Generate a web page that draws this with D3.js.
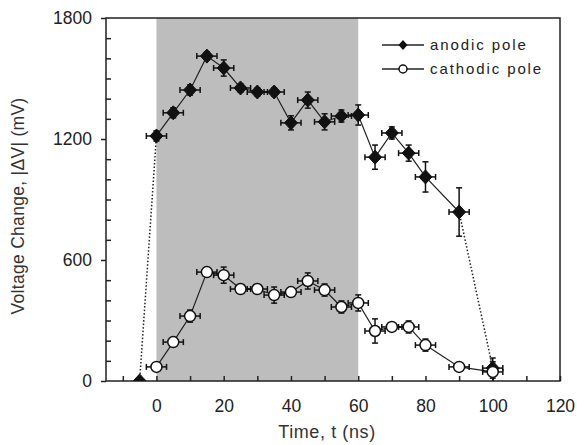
<!DOCTYPE html>
<html>
<head>
<meta charset="utf-8">
<script src="https://cdn.jsdelivr.net/npm/d3@7"></script>
<style>
  body { margin: 0; background: #fff; }
  svg { font-family: "Liberation Sans", Arial, sans-serif; }
</style>
</head>
<body>
<svg id="chart" width="577" height="445"></svg>
<script>
// time points (ns)
const anodicT = [-5, 0, 5, 10, 15, 20, 25, 30, 35, 40, 45, 50, 55, 60, 65, 70, 75, 80, 90, 100];
const anodicV = [0, 1215, 1330, 1443, 1611, 1552, 1453, 1433, 1433, 1280, 1393, 1285, 1314, 1319, 1110, 1230, 1130, 1012, 838, 64];
const anodicErr = [0, 25, 25, 25, 20, 40, 20, 20, 20, 35, 40, 40, 30, 50, 60, 30, 40, 75, 120, 50];

const cathodicT = [0, 5, 10, 15, 20, 25, 30, 35, 40, 45, 50, 55, 60, 65, 70, 75, 80, 90, 100];
const cathodicV = [70, 193, 322, 540, 525, 456, 456, 426, 441, 496, 451, 367, 387, 248, 268, 268, 178, 70, 45];
const cathodicErr = [20, 20, 30, 20, 40, 20, 20, 40, 20, 40, 30, 30, 40, 60, 20, 30, 30, 20, 50];

const tErr = 3;
const shadeRange = [0, 60];
const xTicks = [0, 20, 40, 60, 80, 100, 120];
const yTicks = [0, 600, 1200, 1800];

const svg = d3.select("#chart");
const margin = { top: 18, right: 17, bottom: 64, left: 106 };
const width = 577, height = 445;

const x = d3.scaleLinear().domain([-15, 120]).range([margin.left, width - margin.right]);
const y = d3.scaleLinear().domain([0, 1800]).range([height - margin.bottom, margin.top]);

svg.append("clipPath").attr("id", "plot-clip")
  .append("rect")
  .attr("x", x(-15)).attr("y", y(1800))
  .attr("width", x(120) - x(-15)).attr("height", y(0) - y(1800));

// shaded pulse window
svg.append("rect")
  .attr("x", x(shadeRange[0]))
  .attr("y", y(1800))
  .attr("width", x(shadeRange[1]) - x(shadeRange[0]))
  .attr("height", y(0) - y(1800))
  .attr("fill", "#bdbdbd");

// axes
const xAxis = d3.axisBottom(x).tickValues(d3.range(-10, 121, 10)).tickSize(-5)
  .tickFormat((d) => (xTicks.includes(d) ? d : ""));
svg.append("g")
  .attr("transform", `translate(0,${y(0)})`)
  .call(xAxis)
  .call((g) => g.select(".domain").remove())
  .call((g) => g.selectAll("line").attr("stroke", "#222").attr("stroke-width", 1.5))
  .call((g) => g.selectAll("text").attr("y", 31).attr("dy", 0)
    .attr("font-size", 17.5).attr("fill", "#222"));

const yAxis = d3.axisLeft(y).tickValues(d3.range(0, 1801, 100)).tickSize(5)
  .tickFormat((d) => (yTicks.includes(d) ? d : ""));
svg.append("g")
  .attr("transform", `translate(${x(-15)},0)`)
  .call(yAxis)
  .call((g) => g.select(".domain").remove())
  .call((g) => g.selectAll("line").attr("stroke", "#222").attr("stroke-width", 1.5)
    .attr("x1", 0).attr("x2", (d) => (yTicks.includes(d) ? -5 : 5)))
  .call((g) => g.selectAll("text").attr("x", -14).attr("font-size", 17.5).attr("fill", "#222"));

// frame
svg.append("rect")
  .attr("x", x(-15)).attr("y", y(1800))
  .attr("width", x(120) - x(-15)).attr("height", y(0) - y(1800))
  .attr("fill", "none").attr("stroke", "#222").attr("stroke-width", 1.5);

// axis titles
svg.append("text")
  .attr("x", 327).attr("y", 438)
  .attr("text-anchor", "middle").attr("font-size", 18).attr("letter-spacing", 0.6).attr("fill", "#333")
  .text("Time, t (ns)");
svg.append("text")
  .attr("transform", `translate(24,206) rotate(-90)`)
  .attr("text-anchor", "middle").attr("font-size", 17.5).attr("letter-spacing", 0.3).attr("fill", "#333")
  .text("Voltage Change, |\u0394V| (mV)");

const line = d3.line().x((d) => x(d.t)).y((d) => y(d.v));

const anodic = anodicT.map((t, i) => ({ t, v: anodicV[i], e: anodicErr[i] }));
const cathodic = cathodicT.map((t, i) => ({ t, v: cathodicV[i], e: cathodicErr[i] }));

const plot = svg.append("g").attr("clip-path", "url(#plot-clip)");

// anodic: dotted tails, solid middle
plot.append("path").datum(anodic.slice(0, 2)).attr("d", line)
  .attr("fill", "none").attr("stroke", "#222").attr("stroke-width", 1.5).attr("stroke-dasharray", "1.5,2");
plot.append("path").datum(anodic.slice(-2)).attr("d", line)
  .attr("fill", "none").attr("stroke", "#222").attr("stroke-width", 1.5).attr("stroke-dasharray", "1.5,2");
plot.append("path").datum(anodic.slice(1, -1)).attr("d", line)
  .attr("fill", "none").attr("stroke", "#222").attr("stroke-width", 1.2);
plot.append("path").datum(cathodic).attr("d", line)
  .attr("fill", "none").attr("stroke", "#222").attr("stroke-width", 1.2);

function errorBars(data) {
  const g = plot.append("g").attr("stroke", "#111").attr("stroke-width", 1.5).attr("fill", "none");
  data.forEach((d) => {
    if (d.t < 0) return;
    const cx = x(d.t), cy = y(d.v);
    const y1 = y(d.v + d.e), y2 = y(d.v - d.e);
    const x1 = x(d.t - tErr), x2 = x(d.t + tErr);
    g.append("line").attr("x1", cx).attr("x2", cx).attr("y1", y1).attr("y2", y2);
    g.append("line").attr("x1", cx - 3).attr("x2", cx + 3).attr("y1", y1).attr("y2", y1);
    g.append("line").attr("x1", cx - 3).attr("x2", cx + 3).attr("y1", y2).attr("y2", y2);
    g.append("line").attr("x1", x1).attr("x2", x2).attr("y1", cy).attr("y2", cy);
    g.append("line").attr("x1", x1).attr("x2", x1).attr("y1", cy - 3).attr("y2", cy + 3);
    g.append("line").attr("x1", x2).attr("x2", x2).attr("y1", cy - 3).attr("y2", cy + 3);
  });
}
errorBars(anodic);
errorBars(cathodic);

const diamond = "M0,-7L6.5,0L0,7L-6.5,0Z";

plot.append("g").selectAll("path").data(anodic).join("path")
  .attr("d", diamond)
  .attr("transform", (d) => `translate(${x(d.t)},${y(d.v)})`)
  .attr("fill", "#111").attr("stroke", "#111").attr("stroke-width", 1);

plot.append("g").selectAll("circle").data(cathodic).join("circle")
  .attr("cx", (d) => x(d.t)).attr("cy", (d) => y(d.v)).attr("r", 5.5)
  .attr("fill", "#fff").attr("stroke", "#111").attr("stroke-width", 1.5);

// legend
const legend = svg.append("g").attr("font-size", 15).attr("fill", "#222");
const rows = [
  { label: "anodic pole", filled: true, yy: 45 },
  { label: "cathodic pole", filled: false, yy: 69 }
];
rows.forEach((r) => {
  legend.append("line").attr("x1", 382).attr("x2", 424).attr("y1", r.yy).attr("y2", r.yy)
    .attr("stroke", "#222").attr("stroke-width", 1.5);
  if (r.filled) {
    legend.append("path").attr("d", "M0,-5L4.5,0L0,5L-4.5,0Z")
      .attr("transform", `translate(403,${r.yy})`).attr("fill", "#111");
  } else {
    legend.append("circle").attr("cx", 403).attr("cy", r.yy).attr("r", 4)
      .attr("fill", "#fff").attr("stroke", "#111").attr("stroke-width", 1.5);
  }
  legend.append("text").attr("x", 430).attr("y", r.yy).attr("dy", "0.35em")
    .attr("letter-spacing", 1.9).text(r.label);
});
</script>
</body>
</html>
